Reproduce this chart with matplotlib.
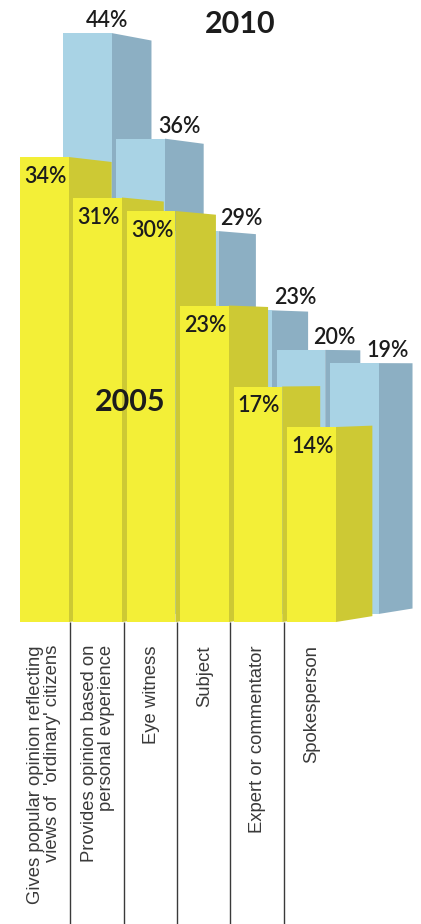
import matplotlib
matplotlib.use("Agg")
import matplotlib.pyplot as plt
from matplotlib.patches import Polygon, Rectangle

# ---------------- data ----------------
categories = [
    "Gives popular opinion reflecting\nviews of  'ordinary' citizens",
    "Provides opinion based on\npersonal evperience",
    "Eye witness",
    "Subject",
    "Expert or commentator",
    "Spokesperson",
]
values_2005 = [34, 31, 30, 23, 17, 14]
values_2010 = [44, 36, 29, 23, 20, 19]
series_names = ["2005", "2010"]

# ---------------- layout / style ----------------
W_PX, H_PX = 421, 924
PX_PER_CAT = 53.4          # horizontal pixels per category
PX_PER_PCT = 13.5          # vertical pixels per percentage point
LEFT_PX = 20               # left edge of first bar
ZERO_PX = 616              # pixel row of 0 %

YEL_FRONT = "#F3EF37"
YEL_SIDE = "#CDC934"
BLU_FRONT = "#A9D3E5"
BLU_SIDE = "#8CAFC3"
TXT = "#1c1c1c"

BAR_W = 0.91
FLOOR = -0.45
DEPTH_Y = 0.0235
DEPTH_B = 0.0223
BACK_SHIFT = 43 / PX_PER_CAT
BLUE_SCALE = 0.978
BLUE_BASE = 0.15
VPX = (1900 - LEFT_PX) / PX_PER_CAT
VPY = (ZERO_PX - 369) / PX_PER_PCT
label_dx_2010_px = [-5, 14, 23, 24, 9, 9]

NUM_FONT = ["Lato", "DejaVu Sans"]
CAT_FONT = ["Liberation Sans", "DejaVu Sans"]


def proj(x, y, d):
    return (VPX + (x - VPX) * (1 - d), VPY + (y - VPY) * (1 - d))


fig = plt.figure(figsize=(W_PX / 100, H_PX / 100), dpi=100)
ax = fig.add_axes([0, 0, 1, 1])
ymin = (ZERO_PX - H_PX) / PX_PER_PCT
ymax = ZERO_PX / PX_PER_PCT
ax.set_xlim(-LEFT_PX / PX_PER_CAT, (W_PX - LEFT_PX) / PX_PER_CAT)
ax.set_ylim(ymin, ymax)
ax.axis("off")


def draw_bar(x0, y0, y1, depth, front, side, z):
    x1 = x0 + BAR_W
    ax.add_patch(Polygon([(x1, y0), (x1, y1), proj(x1, y1, depth), proj(x1, y0, depth)],
                         closed=True, fc=side, ec="none", zorder=z))
    ax.add_patch(Rectangle((x0, y0), BAR_W, y1 - y0, fc=front, ec="none", zorder=z + 0.5))


# 2010 bars (behind)
for i, v in enumerate(values_2010):
    x0 = i + BACK_SHIFT
    y0 = BLUE_BASE
    y1 = BLUE_BASE + v * BLUE_SCALE
    draw_bar(x0, y0, y1, DEPTH_B, BLU_FRONT, BLU_SIDE, 1 + i)
    ax.text(x0 + BAR_W + label_dx_2010_px[i] / PX_PER_CAT, y1 + 6 / PX_PER_PCT, f"{v}%",
            ha="center", va="baseline", fontsize=15.5, fontweight="semibold",
            color=TXT, family=NUM_FONT, zorder=30)

# 2005 bars (front)
for i, v in enumerate(values_2005):
    draw_bar(i, FLOOR, v, DEPTH_Y, YEL_FRONT, YEL_SIDE, 10 + i)
    ax.text(i + 4 / PX_PER_CAT, v - 9 / PX_PER_PCT, f"{v}%",
            ha="left", va="top", fontsize=15.5, fontweight="semibold",
            color=TXT, family=NUM_FONT, zorder=30)

# series names
ax.text((240 - LEFT_PX) / PX_PER_CAT, (ZERO_PX - 24) / PX_PER_PCT, series_names[1],
        ha="center", va="center", fontsize=22, fontweight="bold", color=TXT, family=NUM_FONT, zorder=30)
ax.text((130 - LEFT_PX) / PX_PER_CAT, (ZERO_PX - 402) / PX_PER_PCT, series_names[0],
        ha="center", va="center", fontsize=22, fontweight="bold", color=TXT, family=NUM_FONT, zorder=30)

# category separators and labels
for i in range(1, len(categories)):
    ax.vlines(i - 0.06, ymin, FLOOR, color="#3a3a3a", lw=1.0, zorder=5)
for i, c in enumerate(categories):
    ax.text(i + BAR_W / 2, -2.15, c, rotation=90, ha="center", va="top",
            multialignment="right", fontsize=13.3, color="#3a3a3a", family=CAT_FONT,
            linespacing=1.0, zorder=30)

fig.savefig("out.png", dpi=100)
